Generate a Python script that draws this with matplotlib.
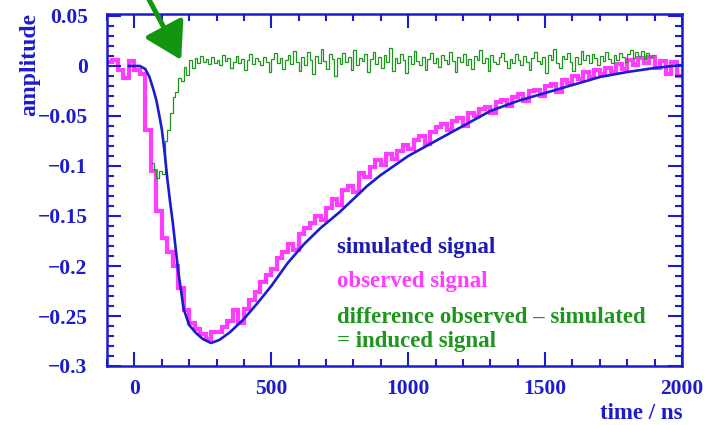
import numpy as np
import matplotlib.pyplot as plt
from matplotlib.ticker import MultipleLocator

# simulated signal (smooth curve), time in ns
sim_t = [-20, 0, 20, 40, 55, 70, 80, 90, 100, 110, 120, 130, 140, 160, 180,
         200, 225, 250, 280, 310, 350, 400, 450, 500, 560, 620, 680, 750, 800,
         850, 900, 1000, 1100, 1200, 1300, 1400, 1500, 1600, 1700, 1800, 1900, 2000]
sim_v = [0, 0, 0, -0.003, -0.011, -0.024, -0.034, -0.048, -0.063, -0.085,
         -0.112, -0.135, -0.156, -0.205, -0.243, -0.259, -0.267, -0.273,
         -0.277, -0.274, -0.266, -0.253, -0.237, -0.220, -0.197, -0.178,
         -0.162, -0.146, -0.133, -0.120, -0.109, -0.090, -0.075, -0.060, -0.045,
         -0.035, -0.027, -0.019, -0.011, -0.006, -0.002, 0.001]

# observed signal, 20 ns bins from -100 ns
obs_start, obs_width = -100, 20
obs_v = [0.004, 0.006, -0.004, -0.012, 0.005, -0.004, -0.008, -0.064, -0.105, -0.145,
         -0.172, -0.186, -0.200, -0.222, -0.244, -0.257, -0.263, -0.268, -0.273, -0.266,
         -0.266, -0.261, -0.255, -0.244, -0.257, -0.243, -0.234, -0.226, -0.216, -0.209,
         -0.203, -0.192, -0.186, -0.178, -0.184, -0.168, -0.162, -0.157, -0.150, -0.154,
         -0.142, -0.133, -0.139, -0.124, -0.120, -0.126, -0.107, -0.111, -0.101, -0.094,
         -0.099, -0.088, -0.093, -0.085, -0.079, -0.083, -0.074, -0.070, -0.078, -0.066,
         -0.061, -0.058, -0.064, -0.055, -0.052, -0.060, -0.047, -0.050, -0.043, -0.041,
         -0.047, -0.036, -0.034, -0.040, -0.031, -0.028, -0.035, -0.025, -0.024, -0.030,
         -0.020, -0.018, -0.026, -0.014, -0.017, -0.010, -0.013, -0.006, -0.011, -0.004,
         -0.008, -0.002, -0.006, 0.002, -0.003, 0.006, 0.001, 0.008, 0.003, 0.009,
         -0.002, 0.005, -0.008, 0.004, -0.010]

# difference observed - simulated, 10 ns bins from 60 ns
diff_start, diff_width = 60, 10
diff_v = [-0.097, -0.104, -0.112, -0.105, -0.108, -0.075, -0.064, -0.047, -0.031, -0.026,
          -0.012, -0.015, -0.001, -0.009, 0.006, -0.002, 0.008, 0.003, 0.010, 0.004,
          0.007, 0.002, 0.009, 0.003, 0.006, 0.001, 0.011, 0.005, 0.008, -0.002,
          0.004, 0.010, 0.003, 0.007, -0.004, 0.006, 0.012, 0.002, 0.008, 0.005,
          0.001, 0.009, 0.004, -0.006, 0.007, 0.013, 0.003, 0.008, -0.003, 0.006,
          0.011, 0.002, 0.015, 0.004, -0.005, 0.009, 0.001, 0.014, 0.006, -0.008,
          0.010, 0.003, 0.017, 0.005, -0.003, 0.012, 0.007, -0.010, 0.008, 0.002,
          0.013, 0.004, 0.009, -0.004, 0.016, 0.001, 0.008, 0.005, 0.012, -0.006,
          0.007, 0.014, 0.002, 0.009, -0.002, 0.011, 0.004, 0.018, -0.005, 0.008,
          0.003, 0.012, 0.006, -0.007, 0.010, 0.002, 0.015, 0.005, 0.001, 0.009,
          -0.004, 0.007, 0.013, 0.003, 0.008, -0.001, 0.011, 0.006, 0.002, 0.014,
          0.005, -0.006, 0.009, 0.004, 0.012, 0.001, 0.007, -0.003, 0.010, 0.006,
          0.016, 0.003, 0.008, -0.005, 0.011, 0.004, 0.002, 0.009, 0.013, 0.005,
          -0.002, 0.007, 0.003, 0.012, 0.006, 0.001, 0.010, 0.004, -0.004, 0.008,
          0.014, 0.005, 0.002, 0.009, -0.007, 0.011, 0.006, 0.017, 0.003, -0.002,
          0.010, 0.007, 0.013, 0.004, -0.005, 0.009, 0.002, 0.015, 0.006, 0.011,
          0.003, 0.012, 0.008, 0.001, 0.010, 0.005, 0.014, 0.007, 0.003, 0.011,
          0.006, 0.013, 0.009, 0.004, 0.012, 0.016, 0.008, 0.014, 0.010, 0.015,
          0.007, 0.013, 0.009, 0.011]

x_ticks = [0, 500, 1000, 1500, 2000]
y_ticks = [0.05, 0, -0.05, -0.1, -0.15, -0.2, -0.25, -0.3]
y_labels = ['0.05', '0', '\u22120.05', '\u22120.1', '\u22120.15', '\u22120.2', '\u22120.25', '\u22120.3']

BLUE = '#1c1ccc'
MAGENTA = '#ff3cff'
GREEN = '#1e961e'
plt.rcParams['font.family'] = ['Liberation Serif', 'DejaVu Serif']
plt.rcParams['font.weight'] = 'bold'

fig = plt.figure(figsize=(7.1, 4.25), dpi=100)
ax = fig.add_axes([107 / 710, 59 / 425, 575 / 710, 352 / 425])

obs_edges = obs_start + obs_width * np.arange(len(obs_v) + 1)
diff_edges = diff_start + diff_width * np.arange(len(diff_v) + 1)
ax.stairs(obs_v, obs_edges, color=MAGENTA, lw=3, baseline=None)
ax.stairs(diff_v, diff_edges, color=GREEN, lw=0.9, baseline=None)
ax.plot(sim_t, sim_v, color=BLUE, lw=1.9)

ax.set_xlim(-100, 2000)
ax.set_ylim(-0.3, 0.052)
ax.set_xticks(x_ticks)
ax.set_yticks(y_ticks)
ax.set_yticklabels(y_labels)
ax.xaxis.set_minor_locator(MultipleLocator(100))
ax.yaxis.set_minor_locator(MultipleLocator(0.01))
ax.tick_params(which='both', direction='in', top=True, right=True, color=BLUE,
               labelcolor=BLUE, labelsize=15.5, width=1.5)
ax.tick_params(which='major', length=10)
ax.tick_params(which='minor', length=5)
ax.tick_params(axis='y', pad=14)
ax.tick_params(axis='x', pad=9)
for s in ax.spines.values():
    s.set_color(BLUE)
    s.set_linewidth(1.8)

fig.text(30 / 710, 1 - 65 / 425, 'amplitude', rotation=90, ha='center', va='center',
         color=BLUE, fontsize=17, fontweight='bold')
fig.text(683 / 710, 1 - 419 / 425, 'time / ns', ha='right', va='baseline',
         color=BLUE, fontsize=16.5, fontweight='bold')

lx = 337 / 710
fig.text(lx, 1 - 253 / 425, 'simulated signal', color='#1c1cb4', fontsize=16.5, va='baseline')
fig.text(lx, 1 - 287 / 425, 'observed signal', color=MAGENTA, fontsize=16.5, va='baseline')
fig.text(lx, 1 - 323 / 425, 'difference observed \u2013 simulated', color=GREEN, fontsize=16.5, va='baseline')
fig.text(lx, 1 - 347 / 425, '= induced signal', color=GREEN, fontsize=16.5, va='baseline')

# arrow pointing at the induced signal
ax.annotate('', xy=(171, 0.006), xycoords='data',
            xytext=(147 / 710, 1.01), textcoords='figure fraction',
            annotation_clip=False,
            arrowprops=dict(arrowstyle='-|>,head_length=1.0,head_width=0.6',
                            mutation_scale=22, color='#129612', lw=3.6,
                            shrinkA=0, shrinkB=0))

fig.savefig('out.png', dpi=100)
